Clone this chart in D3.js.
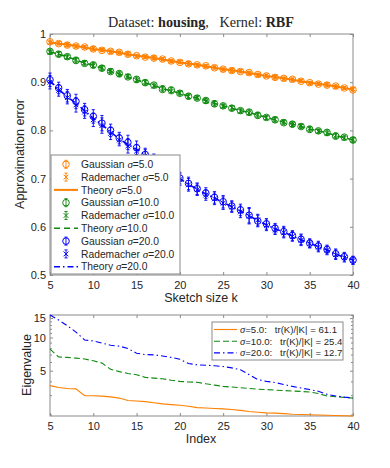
<!DOCTYPE html>
<html>
<head>
<meta charset="utf-8">
<script src="https://cdnjs.cloudflare.com/ajax/libs/d3/7.8.5/d3.min.js"></script>
<style>
  body { margin: 0; background: #fff; }
  text { font-family: "Liberation Sans", Arial, sans-serif; fill: #262626; }
</style>
</head>
<body>
<svg id="chart" width="390" height="468"></svg>
<script>
// sketch sizes / eigenvalue index
var ks = [5,6,7,8,9,10,11,12,13,14,15,16,17,18,19,20,21,22,23,24,25,26,27,28,29,30,31,32,33,34,35,36,37,38,39,40];
var xTicks = [5,10,15,20,25,30,35,40];
var yTicks = [0.5,0.6,0.7,0.8,0.9,1];
var eigTicks = [5,10,15];
var eigMinor = [2,3,4,6,7,8,9,11,12,13,14,16];
var sigmas = ["5.0","10.0","20.0"];
var traces = ["61.1","25.4","12.7"];

// approximation error, sigma = 5
var theory5 = [.983,.980,.978,.975,.972,.969,.967,.964,.961,.958,.955,.953,.950,.947,.944,.941,.939,.936,.933,.930,.927,.925,.922,.919,.916,.913,.911,.908,.905,.902,.899,.897,.894,.891,.888,.885];
var gauss5  = [.984,.980,.977,.975,.973,.969,.966,.964,.962,.958,.955,.952,.950,.948,.944,.941,.938,.936,.934,.930,.927,.924,.922,.920,.916,.913,.910,.908,.906,.902,.899,.896,.894,.892,.888,.884];
var rade5   = [.982,.981,.978,.974,.972,.970,.967,.963,.961,.959,.954,.953,.951,.947,.943,.942,.939,.935,.933,.931,.926,.925,.923,.919,.915,.914,.911,.907,.905,.903,.898,.897,.895,.890,.888,.886];
var err5    = [.003,.003,.004,.003,.003,.004,.003,.003,.003,.004,.003,.003,.004,.003,.003,.003,.004,.003,.003,.003,.003,.004,.003,.003,.003,.003,.004,.003,.003,.003,.003,.003,.004,.003,.003,.003];

// sigma = 10
var theory10 = [.963,.958,.953,.946,.940,.935,.929,.923,.917,.911,.905,.899,.893,.887,.882,.877,.871,.867,.862,.856,.851,.846,.841,.837,.832,.827,.822,.817,.813,.808,.803,.799,.795,.789,.785,.780];
var gauss10  = [.964,.958,.953,.945,.939,.936,.929,.922,.918,.911,.906,.899,.894,.885,.884,.877,.871,.867,.862,.855,.851,.846,.841,.838,.831,.827,.822,.816,.813,.808,.802,.799,.796,.788,.786,.780];
var rade10   = [.962,.959,.952,.947,.941,.934,.930,.924,.916,.912,.904,.900,.892,.888,.881,.878,.870,.868,.861,.857,.850,.847,.840,.836,.833,.826,.823,.818,.812,.809,.804,.798,.794,.790,.784,.781];
var err10    = [.004,.005,.004,.005,.004,.005,.005,.004,.005,.004,.005,.005,.004,.005,.005,.004,.005,.004,.005,.005,.004,.005,.004,.005,.005,.004,.005,.004,.005,.004,.005,.004,.005,.005,.004,.005];

// sigma = 20
var theory20 = [.903,.885,.870,.856,.841,.825,.812,.797,.782,.771,.761,.749,.737,.724,.712,.700,.688,.678,.668,.660,.650,.642,.633,.623,.613,.604,.596,.589,.581,.573,.566,.559,.552,.543,.537,.531];
var gauss20  = [.905,.888,.872,.860,.843,.829,.815,.800,.784,.775,.764,.750,.739,.727,.714,.701,.690,.679,.670,.661,.652,.643,.635,.624,.612,.606,.597,.590,.582,.574,.566,.560,.553,.544,.538,.531];
var rade20   = [.900,.883,.868,.853,.838,.822,.810,.794,.780,.768,.757,.747,.735,.722,.710,.698,.687,.677,.666,.658,.649,.641,.631,.622,.614,.603,.594,.588,.580,.572,.565,.558,.551,.542,.536,.530];
var err20    = [.014,.012,.013,.015,.013,.014,.016,.013,.012,.015,.014,.013,.012,.014,.013,.012,.013,.012,.011,.012,.013,.011,.012,.016,.012,.011,.010,.011,.010,.011,.009,.010,.009,.010,.009,.008];

// eigenvalues, index 5..40
var eig5  = [3.66,3.52,3.45,3.42,2.97,2.96,2.94,2.89,2.82,2.68,2.65,2.62,2.56,2.50,2.46,2.43,2.38,2.31,2.29,2.27,2.25,2.22,2.18,2.13,2.10,2.07,2.06,2.04,2.01,2.00,1.99,1.98,1.97,1.96,1.95,1.94];
var eig10 = [7.85,6.65,6.6,6.5,6.38,6.15,5.87,5.15,4.9,4.72,4.6,4.35,4.28,4.22,4.1,4.0,3.95,3.92,3.80,3.70,3.60,3.55,3.50,3.45,3.40,3.37,3.33,3.30,3.27,3.24,3.20,3.10,2.95,2.90,2.86,2.82];
var eig20 = [16.0,14.4,12.8,11.2,9.5,9.3,8.9,8.5,8.35,7.95,7.2,7.0,6.95,6.8,6.6,6.35,5.8,5.65,5.6,5.55,5.45,5.3,5.1,4.6,4.15,4.0,3.9,3.75,3.6,3.48,3.37,3.25,3.05,2.95,2.88,2.83];

var colors = ["#ff8000", "#0f8a0f", "#0000ff"];
var dashes = [null, "6,4", "6,3,1.5,3"];
var frameCol = "#8a8a8a";

var series = [
  {theory: theory5,  gauss: gauss5,  rade: rade5,  err: err5,  eig: eig5},
  {theory: theory10, gauss: gauss10, rade: rade10, err: err10, eig: eig10},
  {theory: theory20, gauss: gauss20, rade: rade20, err: err20, eig: eig20}
];

var svg = d3.select("#chart");

// ---------- title
var title = svg.append("text").attr("x", 201).attr("y", 27)
    .attr("text-anchor", "middle").attr("xml:space", "preserve")
    .style("white-space", "pre")
    .style("font-family", "'Liberation Serif', 'DejaVu Serif', serif").style("font-size", "14.2px");
title.append("tspan").text("Dataset: ");
title.append("tspan").style("font-weight", "bold").text("housing");
title.append("tspan").text(",   Kernel: ");
title.append("tspan").style("font-weight", "bold").text("RBF");

function styleAxis(g) {
  g.select(".domain").remove();
  g.selectAll(".tick line").attr("stroke", frameCol);
  g.selectAll(".tick text").style("font-size", "11px").attr("fill", "#262626")
    .style("font-family", "'Liberation Sans', Arial, sans-serif");
}

// ---------- top panel
var x = d3.scaleLinear().domain([5, 40]).range([50, 353]);
var y = d3.scaleLinear().domain([0.5, 1]).range([275, 34]);

var topG = svg.append("g");
topG.append("g").attr("transform", "translate(0,275)")
  .call(d3.axisBottom(x).tickValues(xTicks).tickSizeInner(-3).tickSizeOuter(0).tickPadding(6)).call(styleAxis);
topG.append("g").attr("transform", "translate(0,34)")
  .call(d3.axisTop(x).tickValues(xTicks).tickSizeInner(-3).tickSizeOuter(0).tickFormat("")).call(styleAxis);
topG.append("g").attr("transform", "translate(50,0)")
  .call(d3.axisLeft(y).tickValues(yTicks).tickSizeInner(-3).tickSizeOuter(0).tickPadding(4).tickFormat(d3.format(""))).call(styleAxis);
topG.append("g").attr("transform", "translate(353,0)")
  .call(d3.axisRight(y).tickValues(yTicks).tickSizeInner(-3).tickSizeOuter(0).tickFormat("")).call(styleAxis);
topG.append("rect").attr("x", 50).attr("y", 34).attr("width", 303).attr("height", 241)
  .attr("fill", "none").attr("stroke", frameCol);

function errBar(g, cx, lo, hi, col) {
  g.append("line").attr("x1", cx).attr("x2", cx).attr("y1", lo).attr("y2", hi).attr("stroke", col).attr("stroke-width", 0.9);
  g.append("line").attr("x1", cx - 1.6).attr("x2", cx + 1.6).attr("y1", lo).attr("y2", lo).attr("stroke", col).attr("stroke-width", 0.9);
  g.append("line").attr("x1", cx - 1.6).attr("x2", cx + 1.6).attr("y1", hi).attr("y2", hi).attr("stroke", col).attr("stroke-width", 0.9);
}
function circleMark(g, cx, cy, col) {
  g.append("circle").attr("cx", cx).attr("cy", cy).attr("r", 3.3)
    .attr("fill", "none").attr("stroke", col).attr("stroke-width", 1);
}
function xMark(g, cx, cy, col) {
  var s = 2.4;
  g.append("path").attr("d", "M" + (cx - s) + "," + (cy - s) + "L" + (cx + s) + "," + (cy + s) +
      "M" + (cx - s) + "," + (cy + s) + "L" + (cx + s) + "," + (cy - s))
    .attr("stroke", col).attr("stroke-width", 1).attr("fill", "none");
}

var theoryLine = d3.line().x(function(d, i) { return x(ks[i]); }).y(function(d) { return y(d); });

series.forEach(function(s, si) {
  var col = colors[si];
  var g = topG.append("g");
  s.gauss.forEach(function(v, i) {
    errBar(g, x(ks[i]), y(v - s.err[i]), y(v + s.err[i]), col);
    circleMark(g, x(ks[i]), y(v), col);
  });
  s.rade.forEach(function(v, i) {
    errBar(g, x(ks[i]), y(v - s.err[i]), y(v + s.err[i]), col);
    xMark(g, x(ks[i]), y(v), col);
  });
  g.append("path").datum(s.theory).attr("d", theoryLine)
    .attr("fill", "none").attr("stroke", col).attr("stroke-width", si === 0 ? 2 : 1.6)
    .attr("stroke-dasharray", dashes[si]);
});

topG.append("text").attr("x", 201).attr("y", 302).attr("text-anchor", "middle")
  .style("font-size", "12.5px").text("Sketch size k");
topG.append("text").attr("transform", "translate(20,154) rotate(-90)").attr("text-anchor", "middle")
  .attr("dy", "0.35em").style("font-size", "12.5px").text("Approximation error");

// top legend
var leg = topG.append("g");
leg.append("rect").attr("x", 51).attr("y", 155).attr("width", 129).attr("height", 119)
  .attr("fill", "#fff").attr("stroke", frameCol);
var rowY = 164.3, rowStep = 12.8;
series.forEach(function(s, si) {
  var col = colors[si];
  var kinds = ["Gaussian", "Rademacher", "Theory"];
  kinds.forEach(function(kind, ki) {
    var ry = rowY + (si * 3 + ki) * rowStep;
    if (kind === "Theory") {
      leg.append("line").attr("x1", 54).attr("x2", 78).attr("y1", ry).attr("y2", ry)
        .attr("stroke", col).attr("stroke-width", si === 0 ? 2 : 1.6).attr("stroke-dasharray", dashes[si]);
    } else {
      errBar(leg, 66, ry - 4, ry + 4, col);
      if (kind === "Gaussian") circleMark(leg, 66, ry, col); else xMark(leg, 66, ry, col);
    }
    var t = leg.append("text").attr("x", 81).attr("y", ry).attr("dy", "0.35em").style("font-size", "10.3px");
    t.append("tspan").text(kind + " ");
    t.append("tspan").style("font-family", "'Liberation Serif', serif").style("font-style", "italic").style("font-size", "11px").text("σ");
    t.append("tspan").text("=" + sigmas[si]);
  });
});

// ---------- bottom panel
var allEig = eig5.concat(eig10, eig20);
var y2 = d3.scaleLog().domain(d3.extent(allEig)).range([416, 315]);

var botG = svg.append("g");
botG.append("g").attr("transform", "translate(0,416)")
  .call(d3.axisBottom(x).tickValues(xTicks).tickSizeInner(-3).tickSizeOuter(0).tickPadding(6)).call(styleAxis);
botG.append("g").attr("transform", "translate(0,315)")
  .call(d3.axisTop(x).tickValues(xTicks).tickSizeInner(-3).tickSizeOuter(0).tickFormat("")).call(styleAxis);
botG.append("g").attr("transform", "translate(50,0)")
  .call(d3.axisLeft(y2).tickValues(eigTicks).tickSizeInner(-3).tickSizeOuter(0).tickPadding(4).tickFormat(d3.format("d"))).call(styleAxis);
botG.append("g").attr("transform", "translate(353,0)")
  .call(d3.axisRight(y2).tickValues(eigTicks).tickSizeInner(-3).tickSizeOuter(0).tickFormat("")).call(styleAxis);
botG.append("g").attr("transform", "translate(50,0)")
  .call(d3.axisLeft(y2).tickValues(eigMinor).tickSizeInner(-2).tickSizeOuter(0).tickFormat("")).call(styleAxis);
botG.append("g").attr("transform", "translate(353,0)")
  .call(d3.axisRight(y2).tickValues(eigMinor).tickSizeInner(-2).tickSizeOuter(0).tickFormat("")).call(styleAxis);
botG.append("rect").attr("x", 50).attr("y", 315).attr("width", 303).attr("height", 101)
  .attr("fill", "none").attr("stroke", frameCol);

var eigLine = d3.line().x(function(d, i) { return x(ks[i]); }).y(function(d) { return y2(d); });
series.forEach(function(s, si) {
  botG.append("path").datum(s.eig).attr("d", eigLine)
    .attr("fill", "none").attr("stroke", colors[si]).attr("stroke-width", 1.1)
    .attr("stroke-dasharray", si === 1 ? "6,3" : dashes[si]);
});

botG.append("text").attr("x", 201).attr("y", 443).attr("text-anchor", "middle")
  .style("font-size", "12.5px").text("Index");
botG.append("text").attr("transform", "translate(27,365) rotate(-90)").attr("text-anchor", "middle")
  .attr("dy", "0.35em").style("font-size", "12.5px").text("Eigenvalue");

// bottom legend
var leg2 = botG.append("g");
leg2.append("rect").attr("x", 212).attr("y", 322).attr("width", 131).attr("height", 38)
  .attr("fill", "#fff").attr("stroke", frameCol);
series.forEach(function(s, si) {
  var ry = 329.5 + si * 11.7;
  leg2.append("line").attr("x1", 214).attr("x2", 237).attr("y1", ry).attr("y2", ry)
    .attr("stroke", colors[si]).attr("stroke-width", 1.1).attr("stroke-dasharray", si === 1 ? "6,3" : dashes[si]);
  var t = leg2.append("text").attr("x", 240).attr("y", ry).attr("dy", "0.35em")
    .attr("xml:space", "preserve").style("white-space", "pre").style("font-size", "9.6px");
  t.append("tspan").style("font-family", "'Liberation Serif', serif").style("font-style", "italic").style("font-size", "10.5px").text("σ");
  t.append("tspan").text("=" + sigmas[si] + ":   tr(K)/|K| = " + traces[si]);
});
</script>
</body>
</html>
